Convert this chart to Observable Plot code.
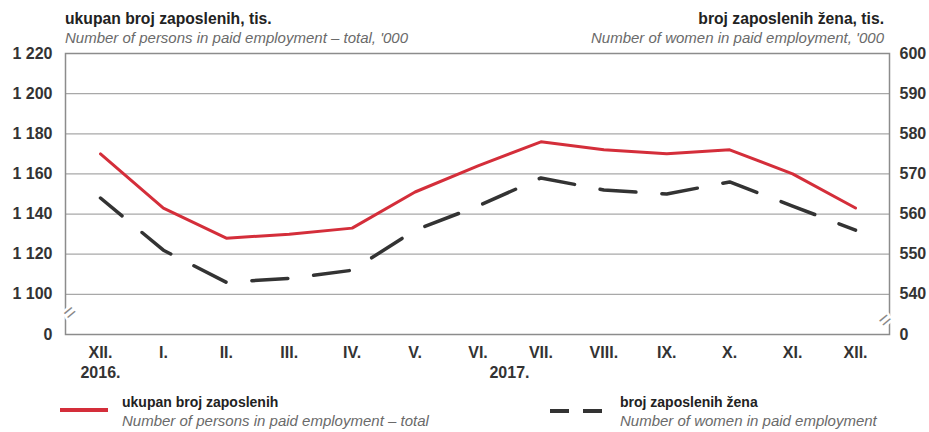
<!DOCTYPE html>
<html><head><meta charset="utf-8">
<script src="https://cdn.jsdelivr.net/npm/d3@7"></script>
<script src="https://cdn.jsdelivr.net/npm/@observablehq/plot@0.6"></script>
<style>
body{margin:0;background:#fff;font-family:"Liberation Sans",Arial,sans-serif;color:#222;}
#wrap{width:929px;height:432px;position:relative;overflow:hidden}
.hdr,.leg{position:relative;height:44px}
.t{position:absolute;white-space:nowrap;line-height:16px}
.b{font-weight:bold;font-size:15.7px;color:#222}
.i{font-style:italic;font-size:15px;color:#6a6a6a}
.lb{font-weight:bold;font-size:14px;color:#222}
.li{font-style:italic;font-size:15px;color:#6a6a6a}
#chart svg{display:block}
.sw{position:absolute}
</style></head>
<body>
<div id="wrap">
  <div class="hdr">
    <div class="t b" style="left:65px;top:11px">ukupan broj zaposlenih, tis.</div>
    <div class="t i" style="left:65px;top:30px">Number of persons in paid employment – total, '000</div>
    <div class="t b" style="right:45px;top:11px;text-align:right">broj zaposlenih žena, tis.</div>
    <div class="t i" style="right:45px;top:30px;text-align:right">Number of women in paid employment, '000</div>
  </div>
  <div id="chart"></div>
  <div class="leg">
    <svg class="sw" style="left:58px;top:16px" width="52" height="12"><line x1="2" y1="6" x2="50" y2="6" stroke="#d42e3a" stroke-width="4"/></svg>
    <div class="t lb" style="left:122px;top:6px">ukupan broj zaposlenih</div>
    <div class="t li" style="left:122px;top:25px">Number of persons in paid employment – total</div>
    <svg class="sw" style="left:548px;top:17px" width="60" height="12"><line x1="2" y1="6" x2="55" y2="6" stroke="#333" stroke-width="4" stroke-dasharray="19,14"/></svg>
    <div class="t lb" style="left:620px;top:6px">broj zaposlenih žena</div>
    <div class="t li" style="left:620px;top:25px">Number of women in paid employment</div>
  </div>
</div>
<script>
const months = ["XII.","I.","II.","III.","IV.","V.","VI.","VII.","VIII.","IX.","X.","XI.","XII."];
const years = ["2016.","2017."];
const yearPos = [0, 6.5];
const total = [1170,1143,1128,1130,1133,1151,1164,1176,1172,1170,1172,1160,1143];
const women = [564,551,543,544,546,556,562,569,566,565,568,562,556];
const leftTicks = [1080,1100,1120,1140,1160,1180,1200,1220];
const leftLabels = ["0","1 100","1 120","1 140","1 160","1 180","1 200","1 220"];
const rightLabels = ["0","540","550","560","570","580","590","600"];
const gridTicks = [1100,1120,1140,1160,1180,1200];

// women axis: 540 ↔ 1100, 600 ↔ 1220 (2 units of the left scale per 1 unit)
const womenToLeft = w => 1100 + (w - 540) * 2;

const totalData = total.map((v,i)=>({i, v}));
const womenData = women.map((w,i)=>({i, v: womenToLeft(w)}));
const yearData = years.map((label,k)=>({label, x: yearPos[k]}));

const chart = Plot.plot({
  width: 929, height: 344,
  marginLeft: 65, marginRight: 40, marginTop: 9, marginBottom: 54,
  style: {fontFamily: "'Liberation Sans', Arial, sans-serif", fontSize: "16px", fontWeight: "bold", color: "#333", background: "#fff"},
  x: {domain: [-0.556, 12.54]},
  y: {domain: [1080, 1220]},
  marks: [
    Plot.gridY(gridTicks, {stroke: "#a8a8a8", strokeOpacity: 1, strokeWidth: 1.2}),
    Plot.frame({stroke: "#8c8c8c", strokeWidth: 1.5}),
    Plot.line(totalData, {x: "i", y: "v", stroke: "#d42e3a", strokeWidth: 3}),
    Plot.line(womenData, {x: "i", y: "v", stroke: "#333", strokeWidth: 3.5, strokeDasharray: "36,26", strokeDashoffset: 8}),
    Plot.axisY({anchor: "left", ticks: leftTicks, tickFormat: v => leftLabels[leftTicks.indexOf(v)], tickSize: 0, tickPadding: 13, label: null, fill: "#333"}),
    Plot.axisY({anchor: "right", ticks: leftTicks, tickFormat: v => rightLabels[leftTicks.indexOf(v)], tickSize: 0, tickPadding: 10, label: null, fill: "#333"}),
    Plot.axisX({ticks: d3.range(months.length), tickFormat: i => months[i], tickSize: 0, tickPadding: 12, label: null, fill: "#333"}),
    Plot.text(yearData, {x: "x", text: "label", frameAnchor: "bottom", dy: 38, lineAnchor: "middle", fill: "#333"}),
    Plot.text([1089], {y: d => d, frameAnchor: "left", text: () => "=", rotate: -40, fontSize: 20, fontWeight: "normal", fill: "#888", stroke: "white", strokeWidth: 5, paintOrder: "stroke"}),
    Plot.text([1089], {y: d => d, frameAnchor: "right", text: () => "=", rotate: -40, fontSize: 20, fontWeight: "normal", fill: "#888", stroke: "white", strokeWidth: 5, paintOrder: "stroke"})
  ]
});
document.getElementById("chart").appendChild(chart);
</script>
</body></html>
